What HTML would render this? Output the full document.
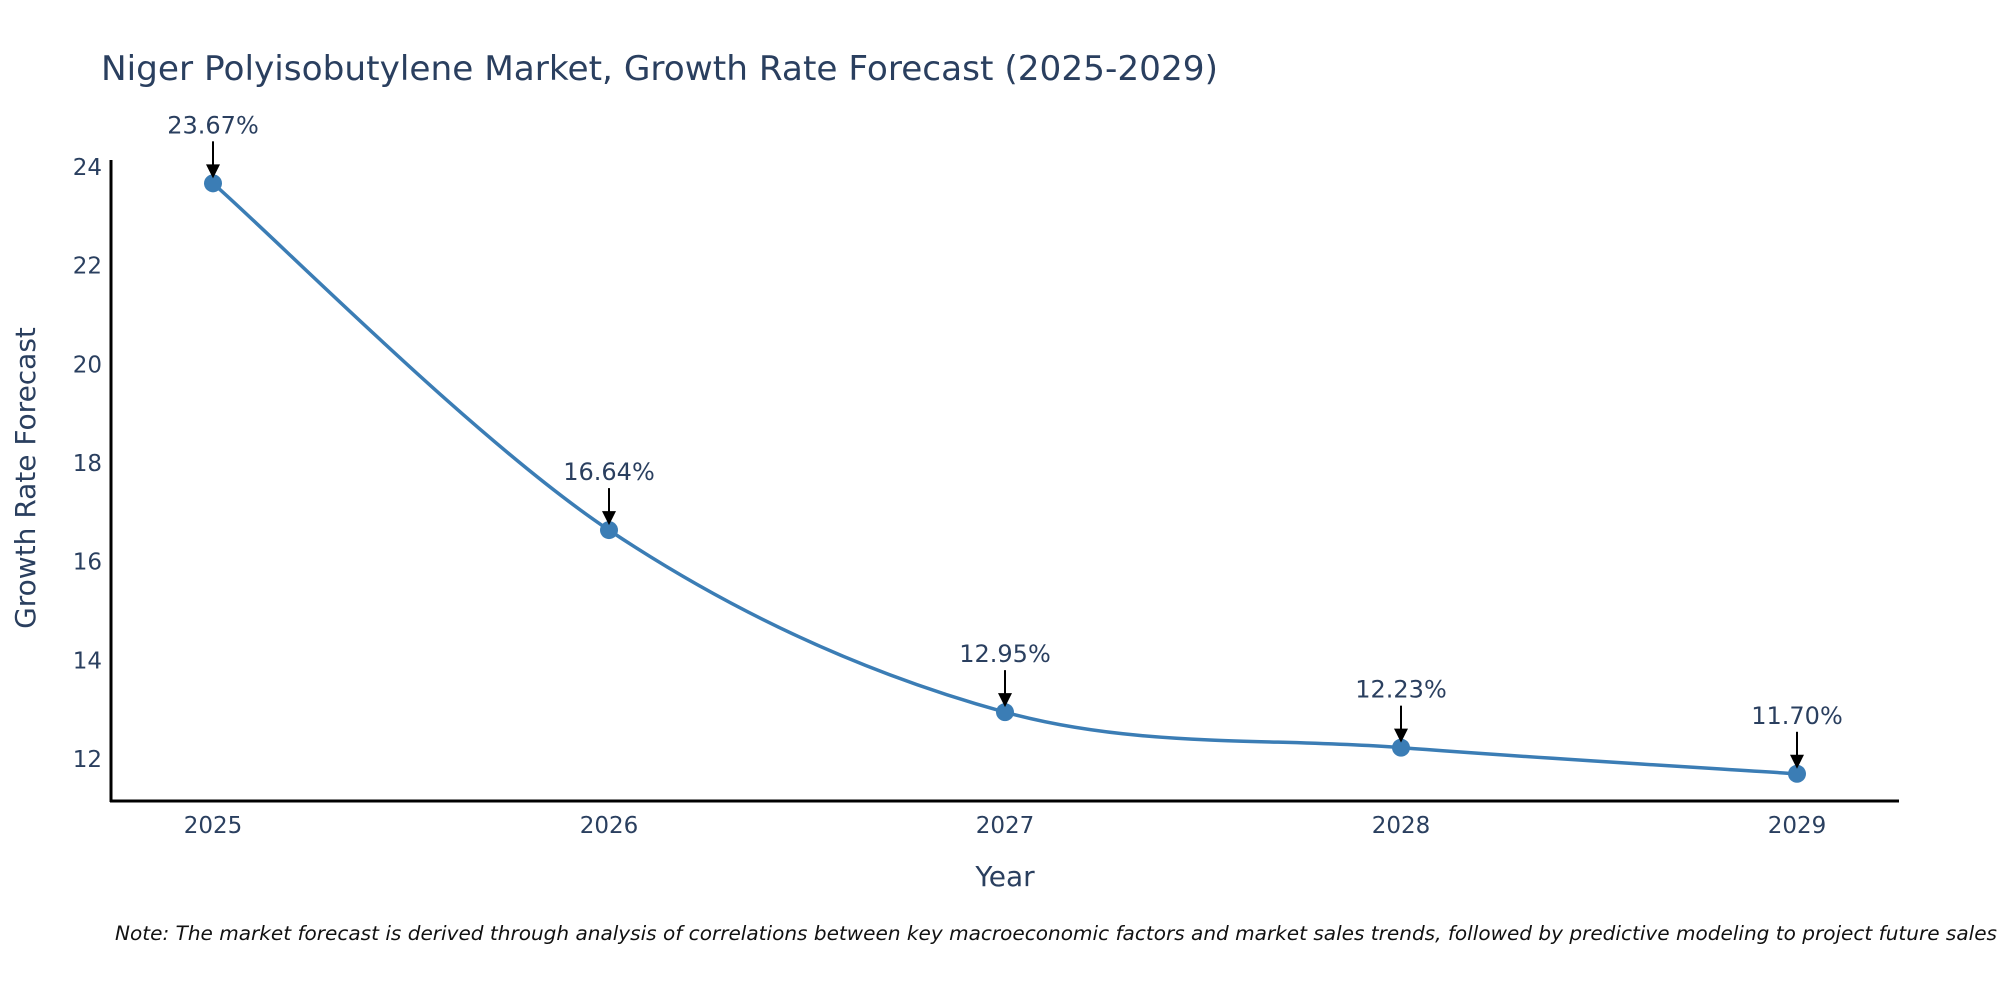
<!DOCTYPE html>
<html><head><meta charset="utf-8"><style>
html,body{margin:0;padding:0;background:#fff;}
svg text{font-family:"DejaVu Sans","Liberation Sans",sans-serif;fill:#2a3f5f;}
</style></head><body>
<svg id="chart" width="2000" height="1000" xmlns="http://www.w3.org/2000/svg">
<rect width="2000" height="1000" fill="#fff"/>
<text x="101" y="80" font-size="34" textLength="1117" lengthAdjust="spacingAndGlyphs">Niger Polyisobutylene Market, Growth Rate Forecast (2025-2029)</text>
<g id="yticks"></g><g id="xticks"></g>
<line x1="111" y1="160" x2="111" y2="802" stroke="#000" stroke-width="3"/>
<line x1="110" y1="801" x2="1899" y2="801" stroke="#000" stroke-width="3"/>
<path id="line" fill="none" stroke="#3b7db5" stroke-width="3.5"/>
<g id="marks"></g>
<text font-size="28" text-anchor="middle" transform="translate(35,478) rotate(-90)">Growth Rate Forecast</text>
<text x="1005" y="886" font-size="28" text-anchor="middle">Year</text>
<text x="115" y="940" font-size="19.5" font-style="italic" style="fill:#111" textLength="1882" lengthAdjust="spacingAndGlyphs">Note: The market forecast is derived through analysis of correlations between key macroeconomic factors and market sales trends, followed by predictive modeling to project future sales</text>
</svg>
<script>
const years = ["2025","2026","2027","2028","2029"];
const values = [23.67,16.64,12.95,12.23,11.70];
const labels = ["23.67%","16.64%","12.95%","12.23%","11.70%"];
const yTicks = [12,14,16,18,20,22,24];
const NS="http://www.w3.org/2000/svg";
function xs(i){return 213+i*396;}
function ys(v){return 759-(v-12)*49.33;}
function mk(tag,attrs,parent){const e=document.createElementNS(NS,tag);for(const k in attrs)e.setAttribute(k,attrs[k]);parent.appendChild(e);return e;}
const yt=document.getElementById('yticks'),xt=document.getElementById('xticks'),mg=document.getElementById('marks');
yTicks.forEach(v=>{const t=mk('text',{x:102,y:ys(v)+8,'font-size':23,'text-anchor':'end'},yt);t.textContent=v;

});
years.forEach((y,i)=>{const t=mk('text',{x:xs(i),y:833,'font-size':23,'text-anchor':'middle'},xt);t.textContent=y;

});
const P=values.map((v,i)=>[xs(i),ys(v)]);
let d=`M${P[0][0]},${P[0][1]}`;
for(let i=0;i<P.length-1;i++){const p0=P[Math.max(i-1,0)],p1=P[i],p2=P[i+1],p3=P[Math.min(i+2,P.length-1)];const k=1/6;
d+=` C${p1[0]+(p2[0]-p0[0])*k},${p1[1]+(p2[1]-p0[1])*k} ${p2[0]-(p3[0]-p1[0])*k},${p2[1]-(p3[1]-p1[1])*k} ${p2[0]},${p2[1]}`;}
document.getElementById('line').setAttribute('d',d);
P.forEach((p,i)=>{
const c=mk('circle',{cx:p[0],cy:p[1],r:9,fill:'#3b7db5'},mg);


const l=mk('line',{x1:p[0],y1:p[1]-42,x2:p[0],y2:p[1]-18,stroke:'#000','stroke-width':2},mg);


const a=mk('polygon',{points:`${p[0]-7},${p[1]-19} ${p[0]+7},${p[1]-19} ${p[0]},${p[1]-5}`,fill:'#000'},mg);


const t=mk('text',{x:p[0],y:p[1]-50,'font-size':24,'text-anchor':'middle'},mg);t.textContent=labels[i];


});
</script>
</body></html>
